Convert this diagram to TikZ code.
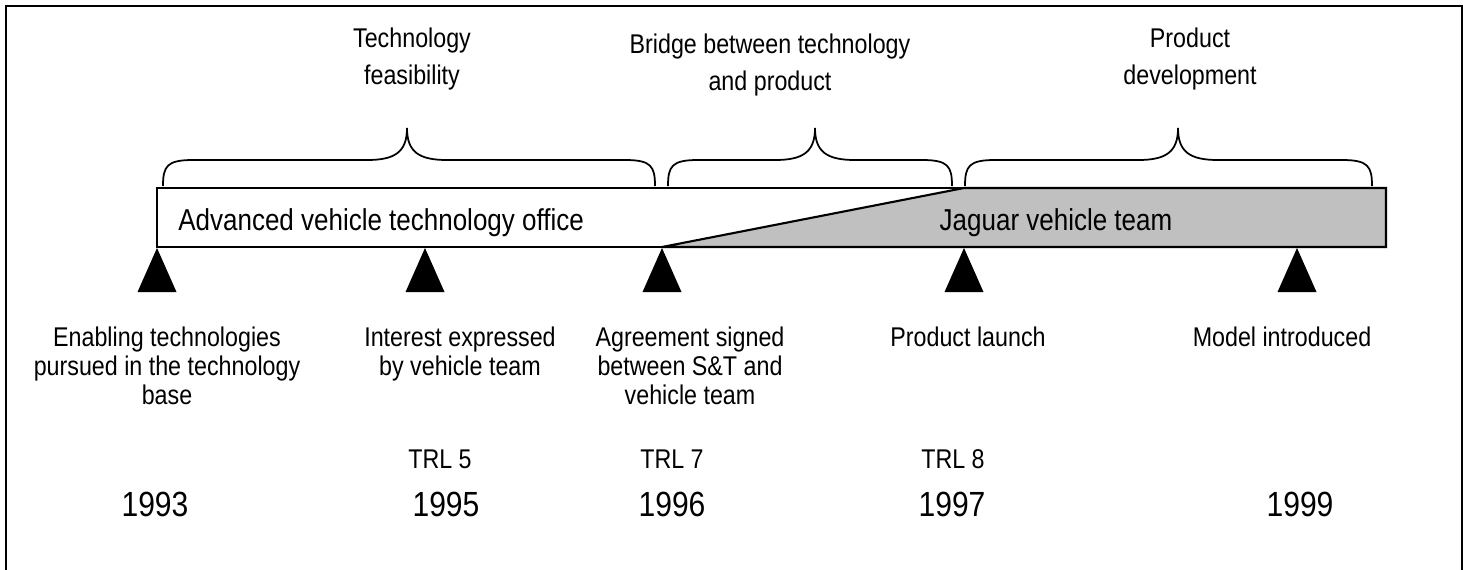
\documentclass[tikz,border=0pt]{standalone}
\usepackage{fontspec}
\setmainfont{Liberation Sans}[FakeStretch=0.86]
\definecolor{barGray}{RGB}{192,192,192}
\begin{document}
\begin{tikzpicture}[x=0.02cm, y=-0.02cm,
    lbl/.style={inner sep=0pt, anchor=base, align=center, font=\fontsize{15.4}{16.5}\selectfont},
    toplbl/.style={lbl, font=\fontsize{15.4}{21}\selectfont},
    barlbl/.style={lbl, font=\fontsize{17.2}{19}\selectfont},
    yearlbl/.style={inner sep=0pt, anchor=base, font=\fontsize{19.9}{23}\selectfont},
    curly/.style={line width=1pt},
    milestone/.style={fill=black}]
    \useasboundingbox (0,0) rectangle (1470,569);
    % Frame
    \draw[line width=1.1pt] (6,580) |- (1462,6) -- (1462,580);
    % Organisation bar
    \draw[line width=1.2pt] (157,188) rectangle (1386,247);
    \filldraw[fill=barGray, line width=1.2pt] (662,247) -- (964,188) -- (1386,188) -- (1386,247) -- cycle;
    \node[barlbl, anchor=base west] (avto) at (178,230) {Advanced vehicle technology office};
    \node[barlbl] (jvt) at (1056,230) {Jaguar vehicle team};
    % Braces
    \foreach \xl/\xc/\xr in {163/407/655, 668/815/952, 965/1178/1372}
        \draw[curly] (\xl,186) .. controls (\xl,166) and (\xl+4,160) .. (\xl+30,160)
            -- (\xc-40,160) .. controls (\xc-12,160) and (\xc,152) .. (\xc,128)
            .. controls (\xc,152) and (\xc+12,160) .. (\xc+40,160)
            -- (\xr-30,160) .. controls (\xr-4,160) and (\xr,166) .. (\xr,186);
    % Phase labels (anchored on last line)
    \node[toplbl] (feas) at (412,84) {Technology\\feasibility};
    \node[toplbl] (bridge) at (770,90) {Bridge between technology\\and product};
    \node[toplbl] (dev) at (1190,84) {Product\\development};
    % Milestones
    \foreach \x in {157,425,662,964,1297}
        \fill[milestone] (\x,248) -- (\x+19.5,292) -- (\x-19.5,292) -- cycle;
    % Milestone texts
    \node[lbl] (enab) at (167,404) {Enabling technologies\\pursued in the technology\\base};
    \node[lbl] (intr) at (460,375) {Interest expressed\\by vehicle team};
    \node[lbl] (agr) at (690,404) {Agreement signed\\between S\&T and\\vehicle team};
    \node[lbl] (launch) at (968,346) {Product launch};
    \node[lbl] (model) at (1282,346) {Model introduced};
    % Readiness levels
    \node[lbl] (trl5) at (440,468) {TRL 5};
    \node[lbl] (trl7) at (672,468) {TRL 7};
    \node[lbl] (trl8) at (953,468) {TRL 8};
    % Years
    \node[yearlbl] (y93) at (155,516) {1993};
    \node[yearlbl] (y95) at (446,516) {1995};
    \node[yearlbl] (y96) at (672,516) {1996};
    \node[yearlbl] (y97) at (952,516) {1997};
    \node[yearlbl] (y99) at (1300,516) {1999};
\end{tikzpicture}
\end{document}
